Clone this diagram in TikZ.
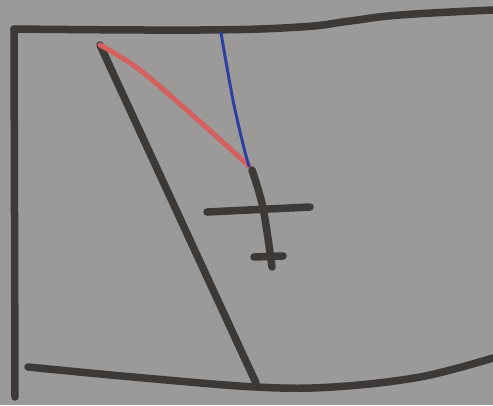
\documentclass[tikz,border=0pt]{standalone}
\usetikzlibrary{calc}
\definecolor{paper}{HTML}{9B9A99}
\definecolor{ink}{HTML}{3C3937}
\definecolor{redpen}{HTML}{D4615F}
\definecolor{bluepen}{HTML}{2E3FA3}

\begin{document}
\begin{tikzpicture}[x=1pt, y=-1pt, line cap=round, line join=round,
    marker/.style={draw=ink, line width=7.5pt},
    redline/.style={draw=redpen, line width=5pt},
    blueline/.style={draw=bluepen, line width=3pt}]
        % paper
        \fill[paper] (0,0) rectangle (493,405);
        \useasboundingbox (0,0) rectangle (493,405);

        % key points
        \coordinate (apex) at (100,45);
        \coordinate (knot) at (249,166);
        \coordinate (foot) at (256,383);

        % frame
        \draw[marker] plot[smooth, tension=0.7] coordinates {(14,29) (200,30) (300,27) (350,21) (400,15) (493,10)};
        \draw[marker] (14,29) -- (15,397);
        \draw[marker] plot[smooth, tension=0.6] coordinates {(28,367) (133,377) (256,387) (333,387) (420,377) (493,358)};

        % slanted bar
        \draw[marker] (apex) -- (foot);

        % strings
        \draw[redline] plot[smooth, tension=0.5] coordinates {(apex) (140,70) (207,128) (knot)};
        \draw[blueline] plot[smooth, tension=0.6] coordinates {(221,33) (233,100) (244,148) (knot)};

        % cross
        \draw[marker] plot[smooth, tension=0.6] coordinates {(252,170) (263,208) (272,267)};
        \draw[marker] (207,212) -- (310,207);
        \draw[marker] (254,257) -- (283,256);
    \end{tikzpicture}
\end{document}
